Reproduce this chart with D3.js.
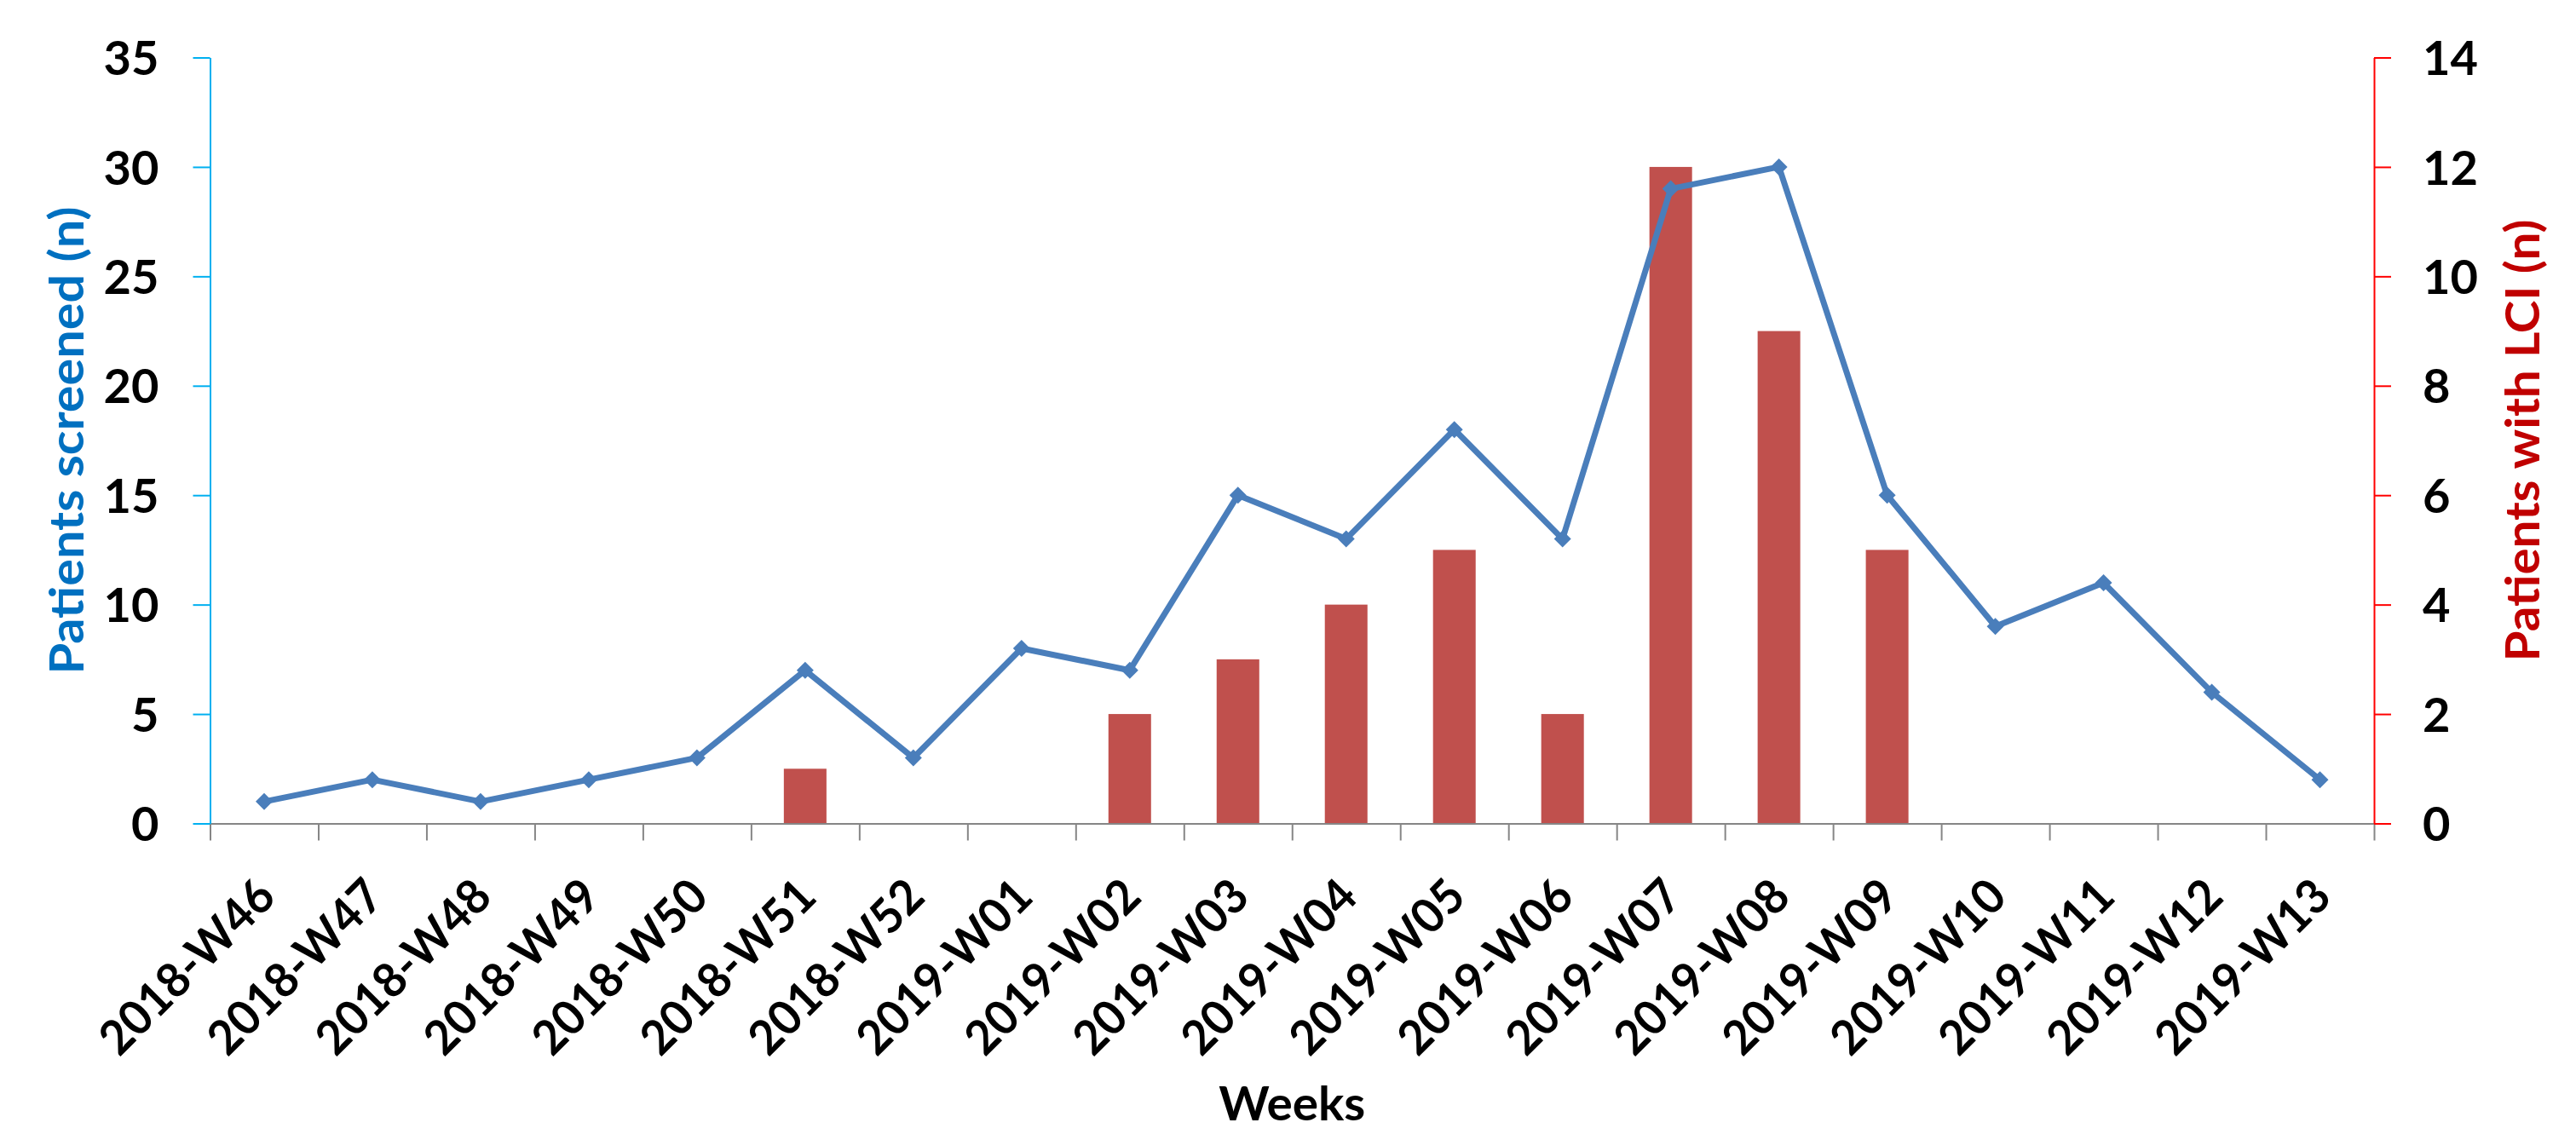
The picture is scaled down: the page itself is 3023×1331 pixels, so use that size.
<!DOCTYPE html>
<html>
<head>
<meta charset="utf-8">
<script src="https://cdn.jsdelivr.net/npm/d3@7"></script>
<style>
  html, body { margin: 0; padding: 0; background: #ffffff; }
  svg { display: block; }
  text { font-family: Lato, "Open Sans", "DejaVu Sans", sans-serif; font-weight: 700; }
</style>
</head>
<body>
<script>
// Weekly screening counts (left axis) and patients with LCI (right axis)
const weeks = [
  "2018-W46", "2018-W47", "2018-W48", "2018-W49", "2018-W50", "2018-W51", "2018-W52",
  "2019-W01", "2019-W02", "2019-W03", "2019-W04", "2019-W05", "2019-W06", "2019-W07",
  "2019-W08", "2019-W09", "2019-W10", "2019-W11", "2019-W12", "2019-W13"
];
const screened = [1, 2, 1, 2, 3, 7, 3, 8, 7, 15, 13, 18, 13, 29, 30, 15, 9, 11, 6, 2];
const lci      = [0, 0, 0, 0, 0, 1, 0, 0, 2, 3, 4, 5, 2, 12, 9, 5, 0, 0, 0, 0];
const leftTicks  = [0, 5, 10, 15, 20, 25, 30, 35];
const rightTicks = [0, 2, 4, 6, 8, 10, 12, 14];
const xTitle = "Weeks";
const leftTitle = "Patients screened (n)";
const rightTitle = "Patients with LCI (n)";

const W = 3023, H = 1331;
const plot = { left: 246.5, right: 2786, top: 67.5, bottom: 966.5 };

const svg = d3.select("body").append("svg")
  .attr("width", W).attr("height", H)
  .attr("viewBox", `0 0 ${W} ${H}`);
svg.append("rect").attr("width", W).attr("height", H).attr("fill", "#ffffff");

// Scales
const x = d3.scaleBand()
  .domain(weeks)
  .range([plot.left, plot.right])
  .paddingInner(0.606)
  .paddingOuter(0.303);
const xEdge = d3.scaleLinear().domain([0, weeks.length]).range([plot.left, plot.right]);
const yLeft = d3.scaleLinear().domain([0, 35]).range([plot.bottom, plot.top]);
const yRight = d3.scaleLinear().domain([0, 14]).range([plot.bottom, plot.top]);
const cx = d => x(d) + x.bandwidth() / 2;

// Bars: patients with LCI
svg.append("g").selectAll("rect")
  .data(weeks.map((w, i) => ({ w, v: lci[i] })).filter(d => d.v > 0))
  .join("rect")
  .attr("x", d => x(d.w))
  .attr("width", x.bandwidth())
  .attr("y", d => yRight(d.v))
  .attr("height", d => yRight(0) - yRight(d.v))
  .attr("fill", "#C0504D");

// Bottom axis (ticks at category boundaries)
const gx = svg.append("g")
  .attr("transform", `translate(0,${plot.bottom})`)
  .call(d3.axisBottom(xEdge)
    .tickValues(d3.range(weeks.length + 1))
    .tickFormat("")
    .tickSize(20)
    .tickSizeOuter(0));
gx.selectAll("path, line").attr("stroke", "#868686").attr("stroke-width", 2);

// Rotated week labels
svg.append("g").selectAll("text")
  .data(weeks)
  .join("text")
  .attr("transform", d => `translate(${cx(d) + 16},${plot.bottom + 89}) rotate(-45)`)
  .attr("text-anchor", "end")
  .attr("font-size", 56)
  .attr("textLength", 263)
  .attr("lengthAdjust", "spacingAndGlyphs")
  .attr("fill", "#000000")
  .text(d => d);

// Left axis
const gl = svg.append("g")
  .attr("transform", `translate(${plot.left},0)`)
  .call(d3.axisLeft(yLeft).tickValues(leftTicks).tickSize(20).tickSizeOuter(0).tickPadding(40));
gl.selectAll("path, line").attr("stroke", "#00B0F0").attr("stroke-width", 2);
gl.selectAll("text")
  .attr("font-size", 56)
  .attr("fill", "#000000").attr("dy", "0.36em");

// Right axis
const gr = svg.append("g")
  .attr("transform", `translate(${plot.right},0)`)
  .call(d3.axisRight(yRight).tickValues(rightTicks).tickSize(20).tickSizeOuter(0).tickPadding(37));
gr.selectAll("path, line").attr("stroke", "#FF0000").attr("stroke-width", 2);
gr.selectAll("text")
  .attr("font-size", 56)
  .attr("fill", "#000000").attr("dy", "0.36em");
[gl, gr, gx].forEach(g => g.attr("font-family", null));

// Line: patients screened
const pts = weeks.map((w, i) => ({ w, v: screened[i] }));
svg.append("path")
  .datum(pts)
  .attr("fill", "none")
  .attr("stroke", "#4A7EBB")
  .attr("stroke-width", 7)
  .attr("stroke-linejoin", "round")
  .attr("d", d3.line().x(d => cx(d.w)).y(d => yLeft(d.v)));

svg.append("g").selectAll("path")
  .data(pts)
  .join("path")
  .attr("transform", d => `translate(${cx(d.w)},${yLeft(d.v)}) rotate(45)`)
  .attr("d", d3.symbol(d3.symbolSquare, 200))
  .attr("fill", "#4A7EBB");

// Axis titles
svg.append("text")
  .attr("transform", `translate(98,${(plot.top + plot.bottom) / 2}) rotate(-90)`)
  .attr("text-anchor", "middle")
  .attr("font-size", 56)
  .attr("textLength", 549)
  .attr("lengthAdjust", "spacingAndGlyphs")
  .attr("fill", "#0070C0")
  .text(leftTitle);

svg.append("text")
  .attr("transform", `translate(2980,${(plot.top + plot.bottom) / 2}) rotate(-90)`)
  .attr("text-anchor", "middle")
  .attr("font-size", 56)
  .attr("textLength", 519)
  .attr("lengthAdjust", "spacingAndGlyphs")
  .attr("fill", "#C00000")
  .text(rightTitle);

svg.append("text")
  .attr("x", (plot.left + plot.right) / 2)
  .attr("y", 1315)
  .attr("text-anchor", "middle")
  .attr("font-size", 56)
  .attr("textLength", 172)
  .attr("lengthAdjust", "spacingAndGlyphs")
  .attr("fill", "#000000")
  .text(xTitle);
</script>
</body>
</html>
